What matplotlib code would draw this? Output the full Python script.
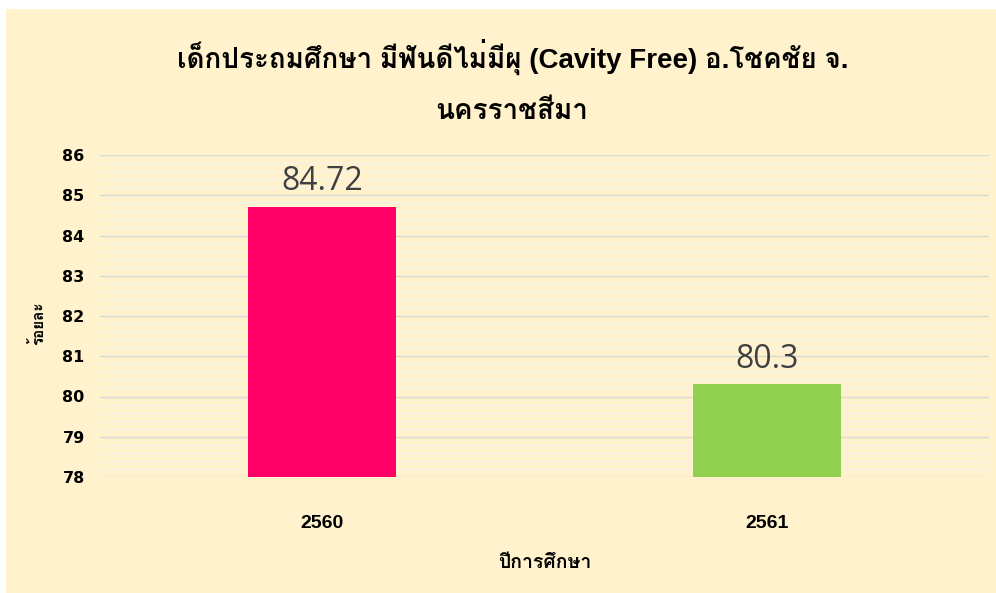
import matplotlib
matplotlib.use("Agg")
import matplotlib.pyplot as plt
from matplotlib.patches import Rectangle

categories = ["2560", "2561"]
values = [84.72, 80.3]
colors = ["#FF0066", "#92D050"]
yticks = [78, 79, 80, 81, 82, 83, 84, 85, 86]
title_line1 = "เด็กประถมศึกษา มีฟันดีไม่มีผุ (Cavity Free) อ.โชคชัย จ."
title_line2 = "นครราชสีมา"
xlabel = "ปีการศึกษา"
ylabel = "ร้อยละ"

fam = ["Liberation Sans", "Loma", "DejaVu Sans"]

fig = plt.figure(figsize=(9.96, 5.93), dpi=100)
fig.patch.set_facecolor("white")
bg = Rectangle((6/996, 0), 1, 1 - 9/593, transform=fig.transFigure,
               facecolor="#FFF2CC", edgecolor="none", zorder=-10)
fig.patches.append(bg)
ax = fig.add_axes([100/996, 1 - 477/593, 889/996, (477 - 155)/593])
ax.set_facecolor("none")
x = list(range(len(categories)))
bars = ax.bar(x, values, width=0.333, color=colors, zorder=3)
ax.set_xlim(-0.5, 1.5)
ax.set_ylim(78, 86)
ax.set_yticks(yticks)
ax.set_yticks([v/5 for v in range(78*5, 86*5+1)], minor=True)
ax.grid(axis="y", which="major", color="#D9D9D9", linewidth=1, zorder=0)
ax.grid(axis="y", which="minor", color="#F7F2E8", linewidth=1, zorder=0)
ax.tick_params(which="both", length=0)
ax.set_xticks(x)
ax.set_xticklabels(categories, fontsize=14, fontweight="bold", family="Liberation Sans")
for lab in ax.get_yticklabels():
    lab.set_fontsize(11.5); lab.set_fontweight("bold"); lab.set_family("DejaVu Sans")
ax.tick_params(axis="x", pad=27)
ax.tick_params(axis="y", pad=11)
for s in ax.spines.values():
    s.set_visible(False)
for b, v in zip(bars, values):
    ax.annotate(f"{v:g}", (b.get_x() + b.get_width()/2, v), xytext=(0, 6),
                textcoords="offset points", ha="center", va="bottom",
                fontsize=23, color="#404040", family="Open Sans")
fig.text(513/996, 1 - 57/593, title_line1, ha="center", va="center", fontsize=20,
         fontweight="bold", family=fam)
fig.text(512/996, 1 - 112/593, title_line2, ha="center", va="center", fontsize=20,
         fontweight="bold", family=fam)
fig.text(545/996, 1 - 563/593, xlabel, ha="center", va="center", fontsize=14,
         fontweight="bold", family=fam)
fig.text(38/996, 1 - 323/593, ylabel, ha="center", va="center", fontsize=11,
         fontweight="bold", rotation=90, family=fam)
fig.savefig("out.png", dpi=100, facecolor=fig.get_facecolor())
